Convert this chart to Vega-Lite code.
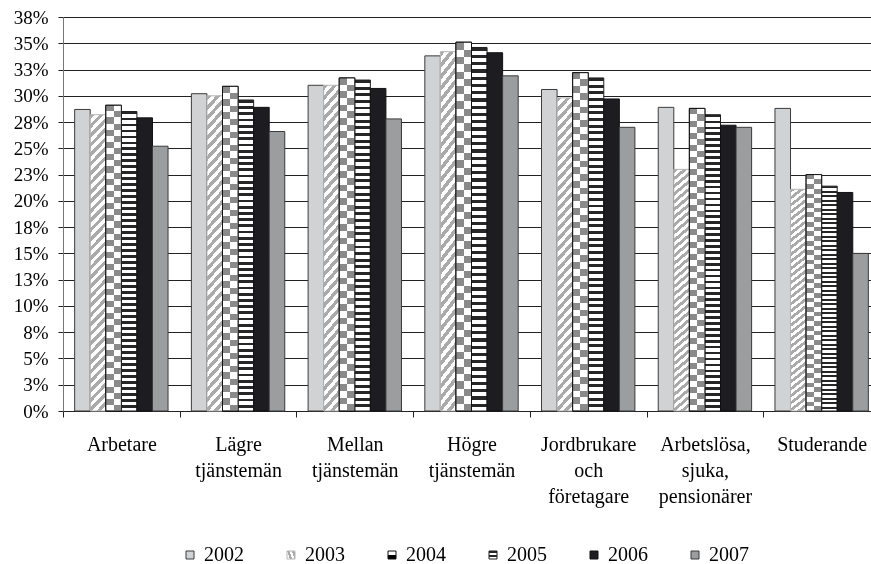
{
  "$schema": "https://vega.github.io/schema/vega-lite/v6.json",
  "width": 808,
  "height": 394,
  "autosize": {"type": "none"},
  "padding": {"left": 63, "top": 17, "right": 0, "bottom": 153},
  "background": "#ffffff",
  "data": {"values": [
    {"group": "Arbetare", "year": "2002", "value": 28.7},
    {"group": "Arbetare", "year": "2003", "value": 28.2},
    {"group": "Arbetare", "year": "2004", "value": 29.1},
    {"group": "Arbetare", "year": "2005", "value": 28.5},
    {"group": "Arbetare", "year": "2006", "value": 27.9},
    {"group": "Arbetare", "year": "2007", "value": 25.2},
    {"group": "Lägre tjänstemän", "year": "2002", "value": 30.2},
    {"group": "Lägre tjänstemän", "year": "2003", "value": 30.0},
    {"group": "Lägre tjänstemän", "year": "2004", "value": 30.9},
    {"group": "Lägre tjänstemän", "year": "2005", "value": 29.6},
    {"group": "Lägre tjänstemän", "year": "2006", "value": 28.9},
    {"group": "Lägre tjänstemän", "year": "2007", "value": 26.6},
    {"group": "Mellan tjänstemän", "year": "2002", "value": 31.0},
    {"group": "Mellan tjänstemän", "year": "2003", "value": 31.0},
    {"group": "Mellan tjänstemän", "year": "2004", "value": 31.7},
    {"group": "Mellan tjänstemän", "year": "2005", "value": 31.5},
    {"group": "Mellan tjänstemän", "year": "2006", "value": 30.7},
    {"group": "Mellan tjänstemän", "year": "2007", "value": 27.8},
    {"group": "Högre tjänstemän", "year": "2002", "value": 33.8},
    {"group": "Högre tjänstemän", "year": "2003", "value": 34.2},
    {"group": "Högre tjänstemän", "year": "2004", "value": 35.1},
    {"group": "Högre tjänstemän", "year": "2005", "value": 34.6},
    {"group": "Högre tjänstemän", "year": "2006", "value": 34.1},
    {"group": "Högre tjänstemän", "year": "2007", "value": 31.9},
    {"group": "Jordbrukare och företagare", "year": "2002", "value": 30.6},
    {"group": "Jordbrukare och företagare", "year": "2003", "value": 29.8},
    {"group": "Jordbrukare och företagare", "year": "2004", "value": 32.2},
    {"group": "Jordbrukare och företagare", "year": "2005", "value": 31.7},
    {"group": "Jordbrukare och företagare", "year": "2006", "value": 29.7},
    {"group": "Jordbrukare och företagare", "year": "2007", "value": 27.0},
    {"group": "Arbetslösa, sjuka, pensionärer", "year": "2002", "value": 28.9},
    {"group": "Arbetslösa, sjuka, pensionärer", "year": "2003", "value": 23.0},
    {"group": "Arbetslösa, sjuka, pensionärer", "year": "2004", "value": 28.8},
    {"group": "Arbetslösa, sjuka, pensionärer", "year": "2005", "value": 28.2},
    {"group": "Arbetslösa, sjuka, pensionärer", "year": "2006", "value": 27.2},
    {"group": "Arbetslösa, sjuka, pensionärer", "year": "2007", "value": 27.0},
    {"group": "Studerande", "year": "2002", "value": 28.8},
    {"group": "Studerande", "year": "2003", "value": 21.1},
    {"group": "Studerande", "year": "2004", "value": 22.5},
    {"group": "Studerande", "year": "2005", "value": 21.4},
    {"group": "Studerande", "year": "2006", "value": 20.8},
    {"group": "Studerande", "year": "2007", "value": 15.0}
  ]},
  "encoding": {
    "x": {
      "field": "group", "type": "nominal", "sort": null,
      "scale": {"range": [0, 817], "paddingInner": 0, "paddingOuter": 0},
      "axis": {
        "title": null, "labelAngle": 0, "labelExpr": "split(datum.label, ' ')",
        "labelFont": "Liberation Serif", "labelFontSize": 20, "labelLineHeight": 26,
        "labelColor": "#000000", "labelPadding": 17, "tickBand": "extent",
        "tickSize": 6, "tickColor": "#222222", "domainColor": "#222222", "grid": false
      }
    },
    "xOffset": {
      "field": "year", "type": "nominal",
      "scale": {"domain": ["2002", "2003", "2004", "2005", "2006", "2007"], "paddingInner": 0, "paddingOuter": 0.75}
    },
    "y": {
      "field": "value", "type": "quantitative",
      "scale": {"domain": [0, 37.5], "nice": false, "zero": true},
      "axis": {
        "title": null,
        "values": [0, 2.5, 5, 7.5, 10, 12.5, 15, 17.5, 20, 22.5, 25, 27.5, 30, 32.5, 35, 37.5],
        "labelExpr": "round(datum.value) + '%'",
        "labelFont": "Liberation Serif", "labelFontSize": 19, "labelColor": "#000000",
        "labelPadding": 10, "tickSize": 5, "tickColor": "#222222", "domainColor": "#777777",
        "grid": true, "gridColor": "#222222", "gridWidth": 1
      }
    }
  },
  "layer": [
    {
      "mark": {"type": "bar", "strokeWidth": 1},
      "encoding": {
        "fill": {
          "field": "year", "type": "nominal",
          "scale": {
            "domain": ["2002", "2003", "2004", "2005", "2006", "2007"],
            "range": [
              "#d1d2d4",
              {"expr": "{gradient:'linear',x1:0,y1:0,x2:0.058,y2:1.06,stops:[{offset:0,color:'#aaa'},{offset:0.015,color:'#aaa'},{offset:0.015,color:'#fff'},{offset:0.03,color:'#fff'},{offset:0.03,color:'#aaa'},{offset:0.045,color:'#aaa'},{offset:0.045,color:'#fff'},{offset:0.06,color:'#fff'},{offset:0.06,color:'#aaa'},{offset:0.075,color:'#aaa'},{offset:0.075,color:'#fff'},{offset:0.09,color:'#fff'},{offset:0.09,color:'#aaa'},{offset:0.105,color:'#aaa'},{offset:0.105,color:'#fff'},{offset:0.12,color:'#fff'},{offset:0.12,color:'#aaa'},{offset:0.135,color:'#aaa'},{offset:0.135,color:'#fff'},{offset:0.15,color:'#fff'},{offset:0.15,color:'#aaa'},{offset:0.165,color:'#aaa'},{offset:0.165,color:'#fff'},{offset:0.18,color:'#fff'},{offset:0.18,color:'#aaa'},{offset:0.195,color:'#aaa'},{offset:0.195,color:'#fff'},{offset:0.21,color:'#fff'},{offset:0.21,color:'#aaa'},{offset:0.225,color:'#aaa'},{offset:0.225,color:'#fff'},{offset:0.24,color:'#fff'},{offset:0.24,color:'#aaa'},{offset:0.255,color:'#aaa'},{offset:0.255,color:'#fff'},{offset:0.27,color:'#fff'},{offset:0.27,color:'#aaa'},{offset:0.285,color:'#aaa'},{offset:0.285,color:'#fff'},{offset:0.3,color:'#fff'},{offset:0.3,color:'#aaa'},{offset:0.315,color:'#aaa'},{offset:0.315,color:'#fff'},{offset:0.33,color:'#fff'},{offset:0.33,color:'#aaa'},{offset:0.345,color:'#aaa'},{offset:0.345,color:'#fff'},{offset:0.36,color:'#fff'},{offset:0.36,color:'#aaa'},{offset:0.375,color:'#aaa'},{offset:0.375,color:'#fff'},{offset:0.39,color:'#fff'},{offset:0.39,color:'#aaa'},{offset:0.405,color:'#aaa'},{offset:0.405,color:'#fff'},{offset:0.42,color:'#fff'},{offset:0.42,color:'#aaa'},{offset:0.435,color:'#aaa'},{offset:0.435,color:'#fff'},{offset:0.45,color:'#fff'},{offset:0.45,color:'#aaa'},{offset:0.465,color:'#aaa'},{offset:0.465,color:'#fff'},{offset:0.48,color:'#fff'},{offset:0.48,color:'#aaa'},{offset:0.495,color:'#aaa'},{offset:0.495,color:'#fff'},{offset:0.51,color:'#fff'},{offset:0.51,color:'#aaa'},{offset:0.525,color:'#aaa'},{offset:0.525,color:'#fff'},{offset:0.54,color:'#fff'},{offset:0.54,color:'#aaa'},{offset:0.555,color:'#aaa'},{offset:0.555,color:'#fff'},{offset:0.57,color:'#fff'},{offset:0.57,color:'#aaa'},{offset:0.585,color:'#aaa'},{offset:0.585,color:'#fff'},{offset:0.6,color:'#fff'},{offset:0.6,color:'#aaa'},{offset:0.615,color:'#aaa'},{offset:0.615,color:'#fff'},{offset:0.63,color:'#fff'},{offset:0.63,color:'#aaa'},{offset:0.645,color:'#aaa'},{offset:0.645,color:'#fff'},{offset:0.66,color:'#fff'},{offset:0.66,color:'#aaa'},{offset:0.675,color:'#aaa'},{offset:0.675,color:'#fff'},{offset:0.69,color:'#fff'},{offset:0.69,color:'#aaa'},{offset:0.705,color:'#aaa'},{offset:0.705,color:'#fff'},{offset:0.72,color:'#fff'},{offset:0.72,color:'#aaa'},{offset:0.735,color:'#aaa'},{offset:0.735,color:'#fff'},{offset:0.75,color:'#fff'},{offset:0.75,color:'#aaa'},{offset:0.765,color:'#aaa'},{offset:0.765,color:'#fff'},{offset:0.78,color:'#fff'},{offset:0.78,color:'#aaa'},{offset:0.795,color:'#aaa'},{offset:0.795,color:'#fff'},{offset:0.81,color:'#fff'},{offset:0.81,color:'#aaa'},{offset:0.825,color:'#aaa'},{offset:0.825,color:'#fff'},{offset:0.84,color:'#fff'},{offset:0.84,color:'#aaa'},{offset:0.855,color:'#aaa'},{offset:0.855,color:'#fff'},{offset:0.87,color:'#fff'},{offset:0.87,color:'#aaa'},{offset:0.885,color:'#aaa'},{offset:0.885,color:'#fff'},{offset:0.9,color:'#fff'},{offset:0.9,color:'#aaa'},{offset:0.915,color:'#aaa'},{offset:0.915,color:'#fff'},{offset:0.93,color:'#fff'},{offset:0.93,color:'#aaa'},{offset:0.945,color:'#aaa'},{offset:0.945,color:'#fff'},{offset:0.96,color:'#fff'},{offset:0.96,color:'#aaa'},{offset:0.975,color:'#aaa'},{offset:0.975,color:'#fff'},{offset:0.99,color:'#fff'},{offset:0.99,color:'#aaa'},{offset:1,color:'#aaa'}]}"},
              {"expr": "{gradient:'linear',x1:0,y1:0,x2:0,y2:1,stops:[{offset:0,color:'#000'},{offset:0.02,color:'#000'},{offset:0.02,color:'#fff'},{offset:0.04,color:'#fff'},{offset:0.04,color:'#000'},{offset:0.06,color:'#000'},{offset:0.06,color:'#fff'},{offset:0.08,color:'#fff'},{offset:0.08,color:'#000'},{offset:0.1,color:'#000'},{offset:0.1,color:'#fff'},{offset:0.12,color:'#fff'},{offset:0.12,color:'#000'},{offset:0.14,color:'#000'},{offset:0.14,color:'#fff'},{offset:0.16,color:'#fff'},{offset:0.16,color:'#000'},{offset:0.18,color:'#000'},{offset:0.18,color:'#fff'},{offset:0.2,color:'#fff'},{offset:0.2,color:'#000'},{offset:0.22,color:'#000'},{offset:0.22,color:'#fff'},{offset:0.24,color:'#fff'},{offset:0.24,color:'#000'},{offset:0.26,color:'#000'},{offset:0.26,color:'#fff'},{offset:0.28,color:'#fff'},{offset:0.28,color:'#000'},{offset:0.3,color:'#000'},{offset:0.3,color:'#fff'},{offset:0.32,color:'#fff'},{offset:0.32,color:'#000'},{offset:0.34,color:'#000'},{offset:0.34,color:'#fff'},{offset:0.36,color:'#fff'},{offset:0.36,color:'#000'},{offset:0.38,color:'#000'},{offset:0.38,color:'#fff'},{offset:0.4,color:'#fff'},{offset:0.4,color:'#000'},{offset:0.42,color:'#000'},{offset:0.42,color:'#fff'},{offset:0.44,color:'#fff'},{offset:0.44,color:'#000'},{offset:0.46,color:'#000'},{offset:0.46,color:'#fff'},{offset:0.48,color:'#fff'},{offset:0.48,color:'#000'},{offset:0.5,color:'#000'},{offset:0.5,color:'#fff'},{offset:0.52,color:'#fff'},{offset:0.52,color:'#000'},{offset:0.54,color:'#000'},{offset:0.54,color:'#fff'},{offset:0.56,color:'#fff'},{offset:0.56,color:'#000'},{offset:0.58,color:'#000'},{offset:0.58,color:'#fff'},{offset:0.6,color:'#fff'},{offset:0.6,color:'#000'},{offset:0.62,color:'#000'},{offset:0.62,color:'#fff'},{offset:0.64,color:'#fff'},{offset:0.64,color:'#000'},{offset:0.66,color:'#000'},{offset:0.66,color:'#fff'},{offset:0.68,color:'#fff'},{offset:0.68,color:'#000'},{offset:0.7,color:'#000'},{offset:0.7,color:'#fff'},{offset:0.72,color:'#fff'},{offset:0.72,color:'#000'},{offset:0.74,color:'#000'},{offset:0.74,color:'#fff'},{offset:0.76,color:'#fff'},{offset:0.76,color:'#000'},{offset:0.78,color:'#000'},{offset:0.78,color:'#fff'},{offset:0.8,color:'#fff'},{offset:0.8,color:'#000'},{offset:0.82,color:'#000'},{offset:0.82,color:'#fff'},{offset:0.84,color:'#fff'},{offset:0.84,color:'#000'},{offset:0.86,color:'#000'},{offset:0.86,color:'#fff'},{offset:0.88,color:'#fff'},{offset:0.88,color:'#000'},{offset:0.9,color:'#000'},{offset:0.9,color:'#fff'},{offset:0.92,color:'#fff'},{offset:0.92,color:'#000'},{offset:0.94,color:'#000'},{offset:0.94,color:'#fff'},{offset:0.96,color:'#fff'},{offset:0.96,color:'#000'},{offset:0.98,color:'#000'},{offset:0.98,color:'#fff'},{offset:1,color:'#fff'}]}"},
              {"expr": "{gradient:'linear',x1:0,y1:0,x2:0,y2:1,stops:[{offset:0,color:'#262626'},{offset:0.009,color:'#262626'},{offset:0.009,color:'#fff'},{offset:0.02,color:'#fff'},{offset:0.02,color:'#262626'},{offset:0.029,color:'#262626'},{offset:0.029,color:'#fff'},{offset:0.04,color:'#fff'},{offset:0.04,color:'#262626'},{offset:0.049,color:'#262626'},{offset:0.049,color:'#fff'},{offset:0.06,color:'#fff'},{offset:0.06,color:'#262626'},{offset:0.069,color:'#262626'},{offset:0.069,color:'#fff'},{offset:0.08,color:'#fff'},{offset:0.08,color:'#262626'},{offset:0.089,color:'#262626'},{offset:0.089,color:'#fff'},{offset:0.1,color:'#fff'},{offset:0.1,color:'#262626'},{offset:0.109,color:'#262626'},{offset:0.109,color:'#fff'},{offset:0.12,color:'#fff'},{offset:0.12,color:'#262626'},{offset:0.129,color:'#262626'},{offset:0.129,color:'#fff'},{offset:0.14,color:'#fff'},{offset:0.14,color:'#262626'},{offset:0.149,color:'#262626'},{offset:0.149,color:'#fff'},{offset:0.16,color:'#fff'},{offset:0.16,color:'#262626'},{offset:0.169,color:'#262626'},{offset:0.169,color:'#fff'},{offset:0.18,color:'#fff'},{offset:0.18,color:'#262626'},{offset:0.189,color:'#262626'},{offset:0.189,color:'#fff'},{offset:0.2,color:'#fff'},{offset:0.2,color:'#262626'},{offset:0.209,color:'#262626'},{offset:0.209,color:'#fff'},{offset:0.22,color:'#fff'},{offset:0.22,color:'#262626'},{offset:0.229,color:'#262626'},{offset:0.229,color:'#fff'},{offset:0.24,color:'#fff'},{offset:0.24,color:'#262626'},{offset:0.249,color:'#262626'},{offset:0.249,color:'#fff'},{offset:0.26,color:'#fff'},{offset:0.26,color:'#262626'},{offset:0.269,color:'#262626'},{offset:0.269,color:'#fff'},{offset:0.28,color:'#fff'},{offset:0.28,color:'#262626'},{offset:0.289,color:'#262626'},{offset:0.289,color:'#fff'},{offset:0.3,color:'#fff'},{offset:0.3,color:'#262626'},{offset:0.309,color:'#262626'},{offset:0.309,color:'#fff'},{offset:0.32,color:'#fff'},{offset:0.32,color:'#262626'},{offset:0.329,color:'#262626'},{offset:0.329,color:'#fff'},{offset:0.34,color:'#fff'},{offset:0.34,color:'#262626'},{offset:0.349,color:'#262626'},{offset:0.349,color:'#fff'},{offset:0.36,color:'#fff'},{offset:0.36,color:'#262626'},{offset:0.369,color:'#262626'},{offset:0.369,color:'#fff'},{offset:0.38,color:'#fff'},{offset:0.38,color:'#262626'},{offset:0.389,color:'#262626'},{offset:0.389,color:'#fff'},{offset:0.4,color:'#fff'},{offset:0.4,color:'#262626'},{offset:0.409,color:'#262626'},{offset:0.409,color:'#fff'},{offset:0.42,color:'#fff'},{offset:0.42,color:'#262626'},{offset:0.429,color:'#262626'},{offset:0.429,color:'#fff'},{offset:0.44,color:'#fff'},{offset:0.44,color:'#262626'},{offset:0.449,color:'#262626'},{offset:0.449,color:'#fff'},{offset:0.46,color:'#fff'},{offset:0.46,color:'#262626'},{offset:0.469,color:'#262626'},{offset:0.469,color:'#fff'},{offset:0.48,color:'#fff'},{offset:0.48,color:'#262626'},{offset:0.489,color:'#262626'},{offset:0.489,color:'#fff'},{offset:0.5,color:'#fff'},{offset:0.5,color:'#262626'},{offset:0.509,color:'#262626'},{offset:0.509,color:'#fff'},{offset:0.52,color:'#fff'},{offset:0.52,color:'#262626'},{offset:0.529,color:'#262626'},{offset:0.529,color:'#fff'},{offset:0.54,color:'#fff'},{offset:0.54,color:'#262626'},{offset:0.549,color:'#262626'},{offset:0.549,color:'#fff'},{offset:0.56,color:'#fff'},{offset:0.56,color:'#262626'},{offset:0.569,color:'#262626'},{offset:0.569,color:'#fff'},{offset:0.58,color:'#fff'},{offset:0.58,color:'#262626'},{offset:0.589,color:'#262626'},{offset:0.589,color:'#fff'},{offset:0.6,color:'#fff'},{offset:0.6,color:'#262626'},{offset:0.609,color:'#262626'},{offset:0.609,color:'#fff'},{offset:0.62,color:'#fff'},{offset:0.62,color:'#262626'},{offset:0.629,color:'#262626'},{offset:0.629,color:'#fff'},{offset:0.64,color:'#fff'},{offset:0.64,color:'#262626'},{offset:0.649,color:'#262626'},{offset:0.649,color:'#fff'},{offset:0.66,color:'#fff'},{offset:0.66,color:'#262626'},{offset:0.669,color:'#262626'},{offset:0.669,color:'#fff'},{offset:0.68,color:'#fff'},{offset:0.68,color:'#262626'},{offset:0.689,color:'#262626'},{offset:0.689,color:'#fff'},{offset:0.7,color:'#fff'},{offset:0.7,color:'#262626'},{offset:0.709,color:'#262626'},{offset:0.709,color:'#fff'},{offset:0.72,color:'#fff'},{offset:0.72,color:'#262626'},{offset:0.729,color:'#262626'},{offset:0.729,color:'#fff'},{offset:0.74,color:'#fff'},{offset:0.74,color:'#262626'},{offset:0.749,color:'#262626'},{offset:0.749,color:'#fff'},{offset:0.76,color:'#fff'},{offset:0.76,color:'#262626'},{offset:0.769,color:'#262626'},{offset:0.769,color:'#fff'},{offset:0.78,color:'#fff'},{offset:0.78,color:'#262626'},{offset:0.789,color:'#262626'},{offset:0.789,color:'#fff'},{offset:0.8,color:'#fff'},{offset:0.8,color:'#262626'},{offset:0.809,color:'#262626'},{offset:0.809,color:'#fff'},{offset:0.82,color:'#fff'},{offset:0.82,color:'#262626'},{offset:0.829,color:'#262626'},{offset:0.829,color:'#fff'},{offset:0.84,color:'#fff'},{offset:0.84,color:'#262626'},{offset:0.849,color:'#262626'},{offset:0.849,color:'#fff'},{offset:0.86,color:'#fff'},{offset:0.86,color:'#262626'},{offset:0.869,color:'#262626'},{offset:0.869,color:'#fff'},{offset:0.88,color:'#fff'},{offset:0.88,color:'#262626'},{offset:0.889,color:'#262626'},{offset:0.889,color:'#fff'},{offset:0.9,color:'#fff'},{offset:0.9,color:'#262626'},{offset:0.909,color:'#262626'},{offset:0.909,color:'#fff'},{offset:0.92,color:'#fff'},{offset:0.92,color:'#262626'},{offset:0.929,color:'#262626'},{offset:0.929,color:'#fff'},{offset:0.94,color:'#fff'},{offset:0.94,color:'#262626'},{offset:0.949,color:'#262626'},{offset:0.949,color:'#fff'},{offset:0.96,color:'#fff'},{offset:0.96,color:'#262626'},{offset:0.969,color:'#262626'},{offset:0.969,color:'#fff'},{offset:0.98,color:'#fff'},{offset:0.98,color:'#262626'},{offset:0.989,color:'#262626'},{offset:0.989,color:'#fff'},{offset:1,color:'#fff'}]}"},
              "#1d1c21",
              "#9c9d9f"
            ]
          },
          "legend": {
            "title": null, "orient": "none", "legendX": 117, "legendY": 528,
            "direction": "horizontal", "columns": 6, "columnPadding": 37,
            "symbolType": "square", "symbolSize": 64, "symbolStrokeWidth": 1,
            "labelFont": "Liberation Serif", "labelFontSize": 20, "labelColor": "#000000",
            "labelOffset": 4, "padding": 0
          }
        },
        "stroke": {
          "field": "year", "type": "nominal",
          "scale": {
            "domain": ["2002", "2003", "2004", "2005", "2006", "2007"],
            "range": ["#3c3c3c", "#b5b5b5", "#111111", "#1e1e1e", "#111111", "#3a3a3a"]
          },
          "legend": {
            "title": null, "orient": "none", "legendX": 117, "legendY": 528,
            "direction": "horizontal", "columns": 6, "columnPadding": 37,
            "symbolType": "square", "symbolSize": 64, "symbolStrokeWidth": 1,
            "labelFont": "Liberation Serif", "labelFontSize": 20, "labelColor": "#000000",
            "labelOffset": 4, "padding": 0
          }
        }
      }
    },
    {
      "transform": [{"filter": "datum.year === '2004'"}],
      "mark": {"type": "bar", "strokeWidth": 0, "blend": "difference",
        "fill": {"gradient": "linear", "x1": 0, "y1": 0, "x2": 1, "y2": 0, "stops": [
          {"offset": 0, "color": "#000000"}, {"offset": 0.5, "color": "#000000"},
          {"offset": 0.5, "color": "#ffffff"}, {"offset": 1, "color": "#ffffff"}
        ]}
      }
    },
    {
      "transform": [{"filter": "datum.year === '2004'"}],
      "mark": {"type": "bar", "strokeWidth": 0, "fill": "#ffffff", "fillOpacity": 0.54}
    },
    {
      "transform": [{"filter": "datum.year === '2004'"}],
      "mark": {"type": "bar", "filled": false, "stroke": "#111111", "strokeWidth": 1}
    }
  ],
  "config": {
    "view": {"stroke": null},
    "axis": {"labelFont": "Liberation Serif"},
    "legend": {"labelFont": "Liberation Serif"}
  }
}
